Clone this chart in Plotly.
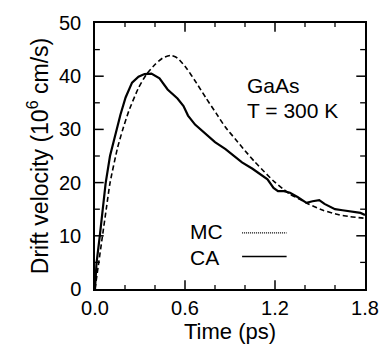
import plotly.graph_objects as go

# Cellular automaton (CA) result, solid line
t_ca = [0, 0.01, 0.032, 0.05, 0.071, 0.1, 0.13, 0.17, 0.204, 0.247, 0.29, 0.33, 0.376,
        0.43, 0.484, 0.52, 0.55, 0.59, 0.62, 0.667, 0.74, 0.8, 0.87, 0.93, 0.98, 1.05,
        1.11, 1.15, 1.19, 1.22, 1.26, 1.3, 1.35, 1.41, 1.45, 1.495, 1.53, 1.56, 1.6,
        1.65, 1.69, 1.74, 1.77, 1.8]
v_ca = [0, 4.8, 10, 14.5, 19.9, 25, 28.5, 32.8, 36.0, 38.8, 39.9, 40.4, 40.5,
        39.6, 37.5, 36.6, 35.8, 34.4, 32.6, 30.9, 29.1, 27.6, 26.3, 25.0, 23.8, 22.6,
        21.3, 20.6, 19.0, 18.4, 18.4, 18.1, 17.3, 16.2, 16.5, 16.7, 16.0, 15.6, 15.0,
        14.8, 14.6, 14.4, 14.3, 13.9]

# Monte Carlo (MC) result, dashed line
t_mc = [0, 0.025, 0.05, 0.075, 0.1, 0.15, 0.183, 0.226, 0.29, 0.344, 0.4, 0.45, 0.505,
        0.55, 0.61, 0.677, 0.74, 0.806, 0.87, 0.935, 1.0, 1.065, 1.13, 1.19, 1.25, 1.3,
        1.37, 1.43, 1.52, 1.62, 1.7, 1.8]
v_mc = [0, 5, 10, 15, 19.9, 26.5, 29.8, 33.5, 37.8, 40.4, 42.2, 43.4, 43.9,
        43.4, 41.5, 38.7, 35.9, 33.1, 30.4, 28.2, 26.0, 23.9, 22.0, 20.3, 18.9, 17.8,
        16.8, 15.9, 14.8, 14.0, 13.6, 13.3]

x_range = [0, 1.8]
y_range = [0, 50]
x_major_ticks = [0.6, 1.2]
x_minor_ticks = [0.2, 0.4, 0.8, 1.0, 1.4, 1.6]
y_major_ticks = [10, 20, 30, 40]
y_minor_ticks = [5, 15, 25, 35, 45]

FONT = "Liberation Sans, Arial, Helvetica, sans-serif"

fig = go.Figure()
fig.add_trace(go.Scatter(x=t_mc, y=v_mc, mode="lines", name="MC",
                         line=dict(color="black", width=1.6, dash="5px,3px", shape="spline",
                                   smoothing=0.6)))
fig.add_trace(go.Scatter(x=t_ca, y=v_ca, mode="lines", name="CA",
                         line=dict(color="black", width=2.2)))

# inside tick marks on all four sides (lengths in pixels converted to data units)
W_PX, H_PX = 279, 270
xs_per_px = (x_range[1] - x_range[0]) / W_PX
ys_per_px = (y_range[1] - y_range[0]) / H_PX


def tick_segments(vals, length_px, axis):
    xs, ys = [], []
    for v in vals:
        if axis == "x":
            L = length_px * ys_per_px
            xs += [v, v, None, v, v, None]
            ys += [y_range[0], y_range[0] + L, None, y_range[1], y_range[1] - L, None]
        else:
            L = length_px * xs_per_px
            ys += [v, v, None, v, v, None]
            xs += [x_range[0], x_range[0] + L, None, x_range[1], x_range[1] - L, None]
    return xs, ys


for vals, ln, ax, w in [(x_major_ticks, 9, "x", 1.5), (x_minor_ticks, 4, "x", 1.3),
                        (y_major_ticks, 9, "y", 1.5), (y_minor_ticks, 5, "y", 1.3)]:
    xs, ys = tick_segments(vals, ln, ax)
    fig.add_trace(go.Scatter(x=xs, y=ys, mode="lines", hoverinfo="skip", showlegend=False,
                             line=dict(color="black", width=w)))

fig.update_xaxes(range=x_range, dtick=0.6, tickformat=".1f", ticks="",
                 showline=True, linecolor="black", linewidth=1.5, mirror=True,
                 showgrid=False, zeroline=False,
                 tickfont=dict(family=FONT, size=20, color="black"),
                 title=dict(text="Time (ps)", font=dict(family=FONT, size=22, color="black"),
                            standoff=4))
fig.update_yaxes(range=y_range, dtick=10, ticks="",
                 showline=True, linecolor="black", linewidth=1.5, mirror=True,
                 showgrid=False, zeroline=False,
                 tickfont=dict(family=FONT, size=20, color="black"),
                 ticklabelstandoff=8,
                 title=dict(text="Drift velocity (10<sup>6</sup> cm/s)",
                            font=dict(family=FONT, size=23, color="black"), standoff=4))

# Text labels
annots = [
    dict(text="GaAs", x=(252 - 95) / 279, y=(289 - 82) / 270),
    dict(text="T = 300 K", x=(252 - 95) / 279, y=(289 - 108) / 270),
    dict(text="MC", x=(193 - 95) / 279, y=(289 - 231) / 270),
    dict(text="CA", x=(193 - 95) / 279, y=(289 - 257) / 270),
]
for a in annots:
    fig.add_annotation(xref="x domain", yref="y domain", x=a["x"], y=a["y"], text=a["text"],
                       showarrow=False, xanchor="left", yanchor="middle", xshift=-2,
                       font=dict(family=FONT, size=21, color="black"))

# Legend sample lines
fig.add_shape(type="line", xref="x domain", yref="y domain",
              x0=(247 - 95) / 279, x1=(293 - 95) / 279,
              y0=(289 - 232) / 270, y1=(289 - 232) / 270,
              line=dict(color="black", width=1.2, dash="1px,1px"))
fig.add_shape(type="line", xref="x domain", yref="y domain",
              x0=(247 - 95) / 279, x1=(293 - 95) / 279,
              y0=(289 - 256) / 270, y1=(289 - 256) / 270,
              line=dict(color="black", width=1.6))

fig.update_layout(width=391, height=350, margin=dict(l=95, r=17, t=19, b=61),
                  paper_bgcolor="white", plot_bgcolor="white", showlegend=False)

fig.write_html("out.html")
